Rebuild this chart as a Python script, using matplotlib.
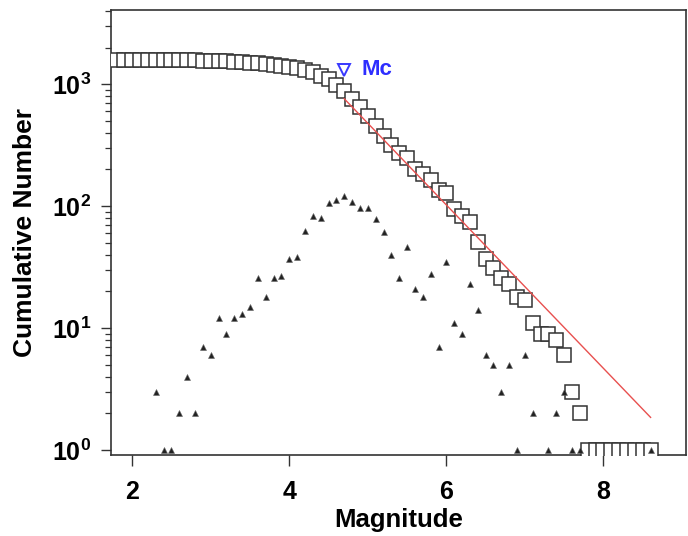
import numpy as np
import matplotlib
matplotlib.use('Agg')
import matplotlib.pyplot as plt
from matplotlib.ticker import LogLocator, NullFormatter

plt.rcParams['font.family'] = ['Liberation Sans', 'DejaVu Sans']
plt.rcParams['font.weight'] = 'bold'
plt.rcParams['mathtext.fontset'] = 'custom'
plt.rcParams['mathtext.rm'] = 'Liberation Sans:bold'
plt.rcParams['mathtext.bf'] = 'Liberation Sans:bold'

# Magnitude bins (0.1 wide) and number of events per bin
mags = np.round(np.arange(1.8, 8.65, 0.1), 1)
counts = np.array([
    0, 0, 0, 0, 0,                              # 1.8 - 2.2
    3, 1, 1, 2, 4, 2, 7,                        # 2.3 - 2.9
    6, 12, 9, 12, 13, 15, 26, 18, 26, 27,       # 3.0 - 3.9
    37, 38, 63, 83, 80, 106, 112, 121, 108, 96, # 4.0 - 4.9
    96, 78, 62, 40, 26, 46, 21, 18, 28, 7,      # 5.0 - 5.9
    35, 11, 9, 23, 14, 6, 5, 3, 5, 1,           # 6.0 - 6.9
    6, 2, 0, 1, 2, 3, 1, 1, 0, 0,               # 7.0 - 7.9
    0, 0, 0, 0, 0, 0, 1,                        # 8.0 - 8.6
])

# Gutenberg-Richter fit: log10 N = a - b M, valid above Mc
mc = 4.7
a_val = 6.03
b_val = 0.67

# cumulative number of events with M >= bin
cum = np.cumsum(counts[::-1])[::-1]

fig = plt.figure(figsize=(6.88, 5.36), dpi=100)
ax = fig.add_axes([0.1613, 0.151, 0.8357, 0.830])

ax.plot(mags, cum, 's', ms=9.4, mfc='white', mec='#333333', mew=1.1, zorder=3)

nz = counts > 0
ax.plot(mags[nz], counts[nz], '^', ms=4.5, color='#222222', mec='#666666',
        mew=0.4, zorder=4)

fit_m = mags[mags >= mc]
ax.plot(fit_m, 10 ** (a_val - b_val * fit_m), '-', color='#e8504f', lw=1.0,
        zorder=5)

mc_n = cum[mags == mc][0] * 1.5
ax.plot([mc], [mc_n], 'v', ms=8, mfc='white', mec='#3838ff', mew=1.4, zorder=6)
ax.text(mc + 0.22, mc_n, 'Mc', color='#2e2eff', fontsize=16, fontweight='bold',
        va='center', ha='left')

ax.set_yscale('log')
ax.set_xlim(1.73, 9.05)
ax.set_ylim(0.91, 4050)

ax.set_xticks([2, 4, 6, 8])
ax.set_xticklabels(['2', '4', '6', '8'], fontsize=18)
ax.set_yticks([1, 10, 100, 1000])
ax.set_yticklabels([r'$\mathbf{10^{0}}$', r'$\mathbf{10^{1}}$',
                    r'$\mathbf{10^{2}}$', r'$\mathbf{10^{3}}$'], fontsize=18)
ax.yaxis.set_minor_locator(LogLocator(base=10, subs=np.arange(2, 10), numticks=20))
ax.yaxis.set_minor_formatter(NullFormatter())

ax.tick_params(axis='x', which='major', direction='out', length=8,
               width=1.0, color='#333333', pad=10)
ax.tick_params(axis='y', which='major', direction='out', length=7,
               width=1.0, color='#333333', pad=7)
ax.tick_params(axis='y', which='minor', direction='out', length=4,
               width=0.9, color='#333333')
for s in ax.spines.values():
    s.set_linewidth(1.2)
    s.set_color('#333333')

ax.set_xlabel('Magnitude', fontsize=18.5, fontweight='bold', labelpad=3)
ax.set_ylabel('Cumulative Number', fontsize=19, fontweight='bold', labelpad=11)

fig.savefig('out.png', dpi=100)
